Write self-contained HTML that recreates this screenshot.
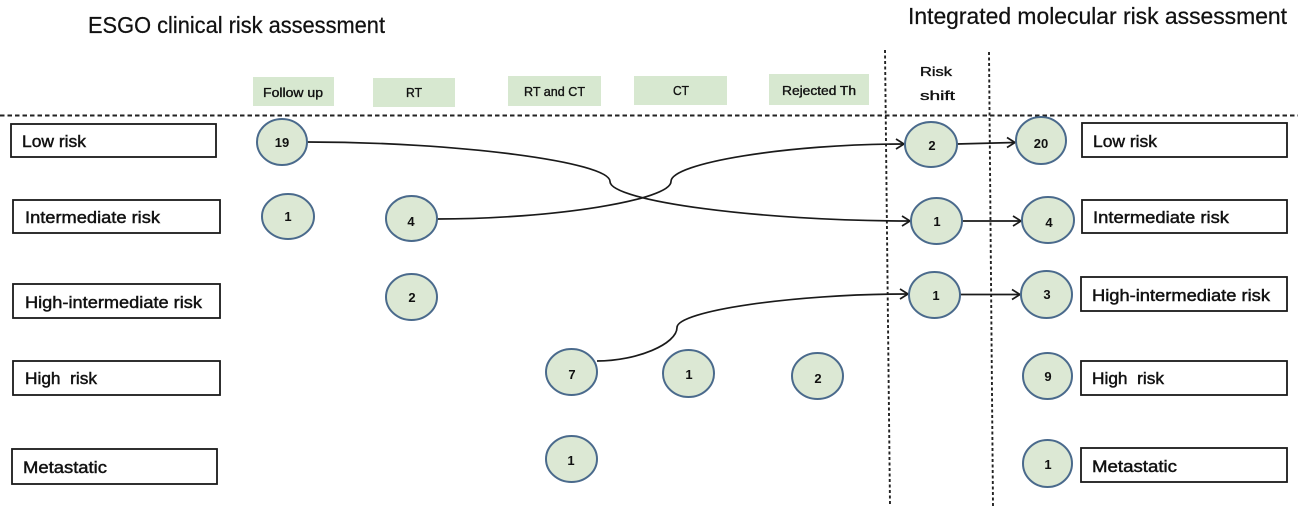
<!DOCTYPE html>
<html><head><meta charset="utf-8"><style>
html,body{margin:0;padding:0;background:#fff;}
svg{display:block;}
text{font-family:"Liberation Sans",Arial,sans-serif;fill:#111;}
.box{fill:#fff;stroke:#1a1a1a;stroke-width:1.8;}
.hdr{fill:#d7e8d0;}
.c{fill:#dce8d4;stroke:#4a6a8c;stroke-width:2;}
.n{font-size:13px;font-weight:bold;text-anchor:middle;}
.lab{font-size:16.5px;stroke:#111;stroke-width:0.45;}
.h{font-size:12.5px;stroke:#111;stroke-width:0.35;}
.t{stroke:#111;stroke-width:0.25;}
.ln{fill:none;stroke:#1a1a1a;stroke-width:1.7;}
</style></head><body>
<svg width="1298" height="506" viewBox="0 0 1298 506" xmlns="http://www.w3.org/2000/svg">
<!-- titles -->
<text class="t" x="88" y="33" font-size="23" textLength="297" lengthAdjust="spacingAndGlyphs">ESGO clinical risk assessment</text>
<text class="t" x="908" y="24" font-size="23" textLength="379" lengthAdjust="spacingAndGlyphs">Integrated molecular risk assessment</text>

<!-- header boxes -->
<rect class="hdr" x="253" y="77" width="81" height="29"/>
<rect class="hdr" x="373" y="78" width="82" height="29"/>
<rect class="hdr" x="508" y="76" width="93" height="30"/>
<rect class="hdr" x="634" y="76" width="93" height="29"/>
<rect class="hdr" x="769" y="74" width="100" height="31"/>
<text class="h" x="263" y="97" textLength="60" lengthAdjust="spacingAndGlyphs">Follow up</text>
<text class="h" x="406" y="97" textLength="16" lengthAdjust="spacingAndGlyphs">RT</text>
<text class="h" x="524" y="96" textLength="61" lengthAdjust="spacingAndGlyphs">RT and CT</text>
<text class="h" x="673" y="95" textLength="16" lengthAdjust="spacingAndGlyphs">CT</text>
<text class="h" x="782" y="95" textLength="74" lengthAdjust="spacingAndGlyphs">Rejected Th</text>
<text class="h" x="920" y="76" font-size="16" textLength="32" lengthAdjust="spacingAndGlyphs">Risk</text>
<text class="h" x="920" y="100" font-size="16" textLength="35" lengthAdjust="spacingAndGlyphs">shift</text>

<!-- dashed lines -->
<line x1="0" y1="115.5" x2="1298" y2="115.5" stroke="#222" stroke-width="1.9" stroke-dasharray="4.5,3"/>
<line x1="885" y1="50" x2="890" y2="506" stroke="#222" stroke-width="1.9" stroke-dasharray="3,2.5"/>
<line x1="989" y1="52" x2="993" y2="506" stroke="#222" stroke-width="1.9" stroke-dasharray="3,2.5"/>

<!-- left boxes -->
<rect class="box" x="11" y="124" width="205" height="33"/>
<rect class="box" x="13" y="200" width="207" height="33"/>
<rect class="box" x="13" y="284" width="207" height="34"/>
<rect class="box" x="13" y="361" width="207" height="34"/>
<rect class="box" x="12" y="449" width="205" height="35"/>
<text class="lab" x="22" y="147" textLength="64" lengthAdjust="spacingAndGlyphs">Low risk</text>
<text class="lab" x="25" y="223" textLength="135" lengthAdjust="spacingAndGlyphs">Intermediate risk</text>
<text class="lab" x="25" y="308" textLength="177" lengthAdjust="spacingAndGlyphs">High-intermediate risk</text>
<text class="lab" x="25" y="384" textLength="72" lengthAdjust="spacingAndGlyphs" xml:space="preserve">High  risk</text>
<text class="lab" x="23" y="473" textLength="84" lengthAdjust="spacingAndGlyphs">Metastatic</text>

<!-- right boxes -->
<rect class="box" x="1082" y="123" width="205" height="34"/>
<rect class="box" x="1082" y="200" width="205" height="33"/>
<rect class="box" x="1081" y="277" width="206" height="34"/>
<rect class="box" x="1081" y="361" width="206" height="34"/>
<rect class="box" x="1081" y="448" width="206" height="34"/>
<text class="lab" x="1093" y="147" textLength="64" lengthAdjust="spacingAndGlyphs">Low risk</text>
<text class="lab" x="1093" y="223" textLength="136" lengthAdjust="spacingAndGlyphs">Intermediate risk</text>
<text class="lab" x="1092" y="301" textLength="178" lengthAdjust="spacingAndGlyphs">High-intermediate risk</text>
<text class="lab" x="1092" y="384" textLength="72" lengthAdjust="spacingAndGlyphs" xml:space="preserve">High  risk</text>
<text class="lab" x="1092" y="472" textLength="85" lengthAdjust="spacingAndGlyphs">Metastatic</text>

<!-- connectors -->
<path class="ln" d="M307,142 C458,142 610,162 610,181.5 C610,201 760,221 909,221"/>
<path class="ln" d="M437,219 C554,219 671,200 671,181.5 C671,163 788,144 903,144"/>
<path class="ln" d="M597,361 C637,361 677,344 677,327.5 C677,311 793,294 907,294"/>
<line class="ln" x1="957" y1="144" x2="1014" y2="142.5"/>
<line class="ln" x1="962" y1="221" x2="1020" y2="221"/>
<line class="ln" x1="960" y1="294.5" x2="1019" y2="294.5"/>
<!-- arrowheads -->
<g class="ln">
<polyline points="896,139 904,144 896,149"/>
<polyline points="902,216 910,221 902,226"/>
<polyline points="900,289 908,294 900,299"/>
<polyline points="1007,137.5 1015,142.5 1007,147.5"/>
<polyline points="1013,216 1021,221 1013,226"/>
<polyline points="1012,289.5 1020,294.5 1012,299.5"/>
</g>

<!-- circles -->
<ellipse class="c" cx="282" cy="142" rx="25" ry="23"/><text class="n" x="282" y="147">19</text>
<ellipse class="c" cx="288" cy="216.5" rx="26" ry="22.5"/><text class="n" x="288" y="221">1</text>
<ellipse class="c" cx="411.5" cy="218.5" rx="25.5" ry="22.5"/><text class="n" x="411" y="226">4</text>
<ellipse class="c" cx="411.5" cy="297" rx="25.5" ry="23"/><text class="n" x="412" y="302">2</text>
<ellipse class="c" cx="571.5" cy="372" rx="25.5" ry="23"/><text class="n" x="572" y="379">7</text>
<ellipse class="c" cx="688.5" cy="373.5" rx="25.5" ry="23.5"/><text class="n" x="689" y="379">1</text>
<ellipse class="c" cx="817.5" cy="376" rx="25.5" ry="23"/><text class="n" x="818" y="383">2</text>
<ellipse class="c" cx="571.5" cy="459" rx="25.5" ry="23"/><text class="n" x="571" y="465">1</text>

<ellipse class="c" cx="931" cy="144.5" rx="26" ry="22.5"/><text class="n" x="932" y="150">2</text>
<ellipse class="c" cx="936.5" cy="221" rx="25.5" ry="23"/><text class="n" x="937" y="226">1</text>
<ellipse class="c" cx="934.5" cy="295" rx="25.5" ry="23"/><text class="n" x="936" y="300">1</text>

<ellipse class="c" cx="1041" cy="140.5" rx="25" ry="23.5"/><text class="n" x="1041" y="148">20</text>
<ellipse class="c" cx="1048" cy="220" rx="26" ry="23"/><text class="n" x="1049" y="227">4</text>
<ellipse class="c" cx="1046.5" cy="294.5" rx="25.5" ry="23.5"/><text class="n" x="1047" y="299">3</text>
<ellipse class="c" cx="1047.5" cy="376" rx="24.5" ry="23"/><text class="n" x="1048" y="381">9</text>
<ellipse class="c" cx="1047.5" cy="463.5" rx="24.5" ry="23.5"/><text class="n" x="1048" y="469">1</text>
</svg>
</body></html>
